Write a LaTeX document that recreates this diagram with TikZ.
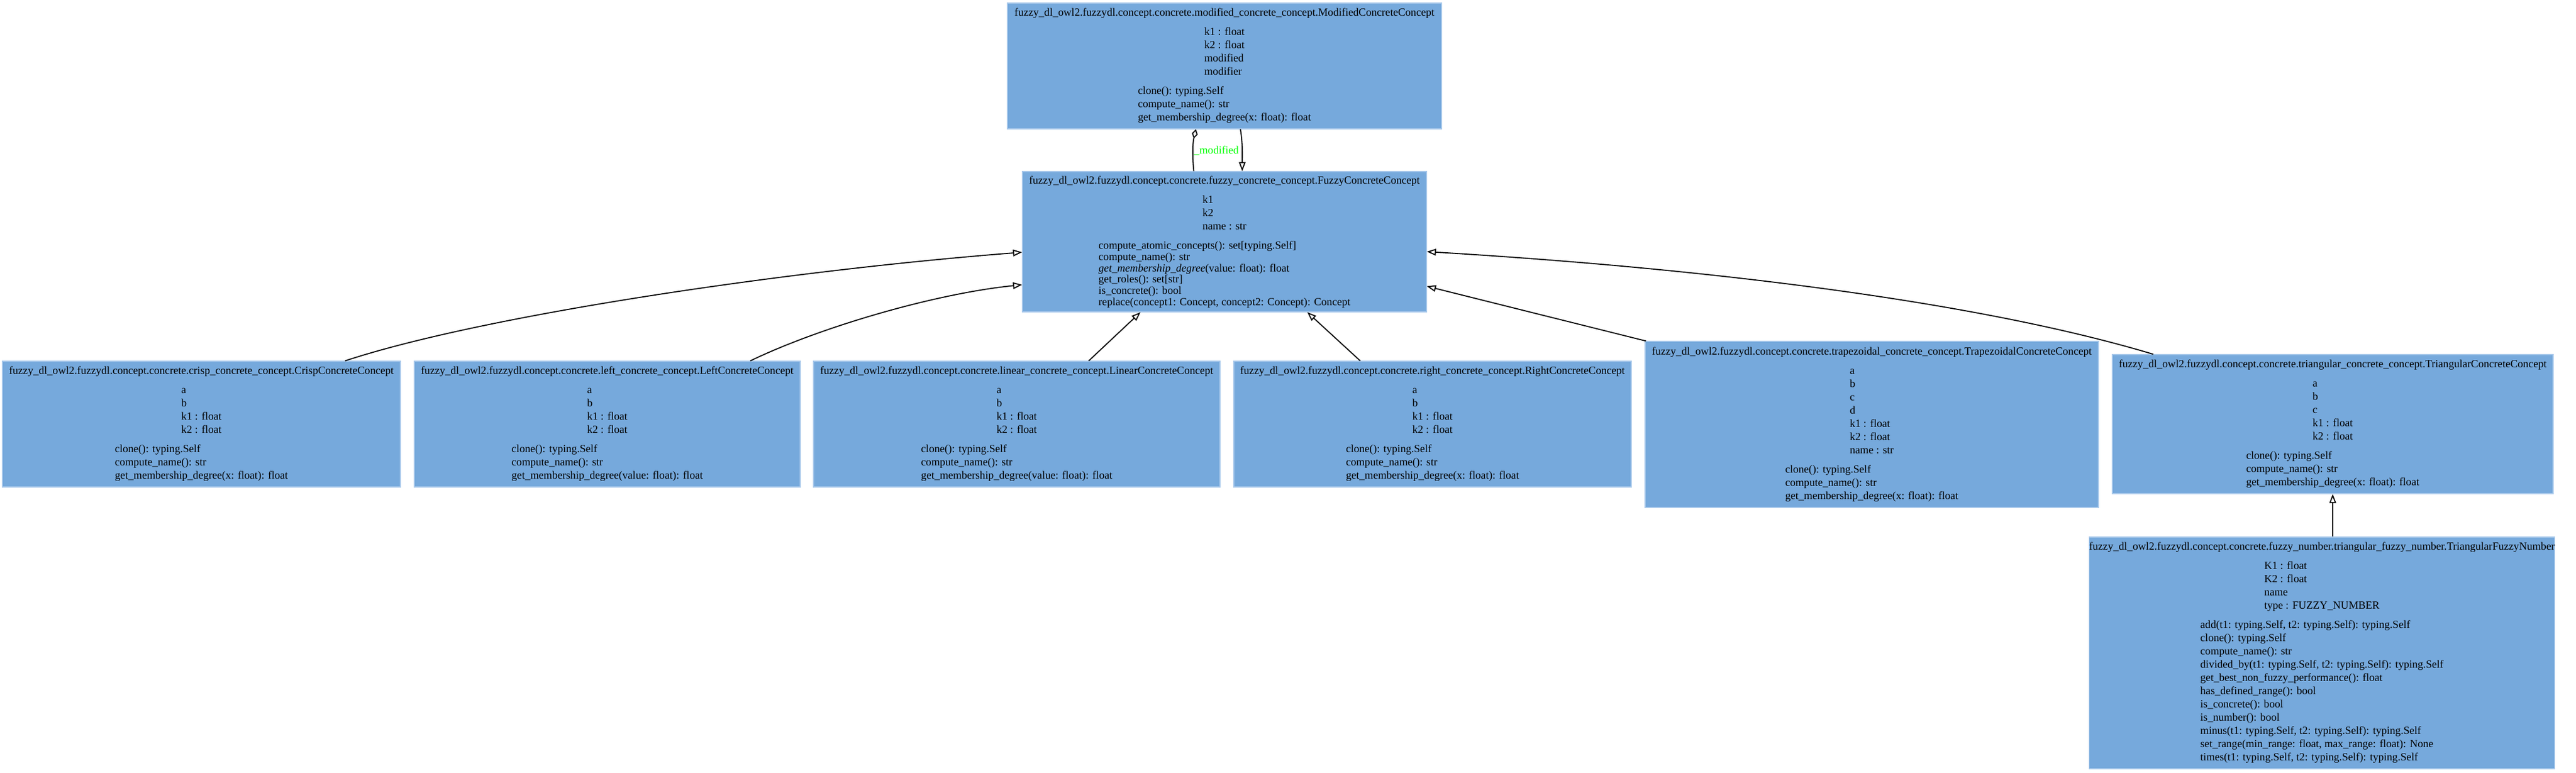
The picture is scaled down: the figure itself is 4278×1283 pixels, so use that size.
\documentclass[tikz,border=0pt]{standalone}
\usepackage{fontspec}
\setmainfont{Liberation Serif}
\usetikzlibrary{arrows.meta,calc}
\definecolor{clsfill}{HTML}{76A9DC}
\definecolor{clsline}{HTML}{A9C9EB}
\definecolor{lblgreen}{HTML}{00FF00}

% class body: [method stretch]{title}{attributes}{methods}
\newcommand{\classbody}[4][1]{%
  \begin{tabular}{@{}c@{}}#2\\[10pt]
    \begin{tabular}[t]{@{}l@{}}#3\\[10pt]\end{tabular}\\
    \renewcommand{\arraystretch}{#1}%
    \begin{tabular}[t]{@{}l@{}}#4\end{tabular}
  \end{tabular}}

\begin{document}
\begin{tikzpicture}[x=1pt,y=-1pt,
  cls/.style={draw=clsline,line width=1.2pt,fill=clsfill,inner sep=0pt,
    font=\fontsize{18.1}{22}\selectfont},
  isa/.style={-{Triangle[open,length=15pt,width=11pt]},line width=1.8pt},
  has/.style={{Diamond[open,length=16pt,width=10pt]}-,line width=1.8pt}]
  \useasboundingbox (0,0) rectangle (4278,1283);

  % ===== Classes =====
  \node[cls,minimum width=721pt,minimum height=209pt] (modified) at (2033.5,109.5)
    {\classbody{fuzzy\_dl\_owl2.fuzzydl.concept.concrete.modified\_concrete\_concept.ModifiedConcreteConcept}
      {k1 : float\\k2 : float\\modified\\modifier}
      {clone(): typing.Self\\compute\_name(): str\\get\_membership\_degree(x: float): float}};

  \node[cls,minimum width=671pt,minimum height=233pt] (fuzzy) at (2033.5,401.5)
    {\classbody[0.85]{fuzzy\_dl\_owl2.fuzzydl.concept.concrete.fuzzy\_concrete\_concept.FuzzyConcreteConcept}
      {k1\\k2\\name : str}
      {compute\_atomic\_concepts(): set[typing.Self]\\compute\_name(): str\\
       \textit{get\_membership\_degree}(value: float): float\\get\_roles(): set[str]\\
       is\_concrete(): bool\\replace(concept1: Concept, concept2: Concept): Concept}};

  \node[cls,minimum width=661pt,minimum height=209pt] (crisp) at (334.5,704.5)
    {\classbody{fuzzy\_dl\_owl2.fuzzydl.concept.concrete.crisp\_concrete\_concept.CrispConcreteConcept}
      {a\\b\\k1 : float\\k2 : float}
      {clone(): typing.Self\\compute\_name(): str\\get\_membership\_degree(x: float): float}};

  \node[cls,minimum width=641pt,minimum height=209pt] (left) at (1008.5,704.5)
    {\classbody{fuzzy\_dl\_owl2.fuzzydl.concept.concrete.left\_concrete\_concept.LeftConcreteConcept}
      {a\\b\\k1 : float\\k2 : float}
      {clone(): typing.Self\\compute\_name(): str\\get\_membership\_degree(value: float): float}};

  \node[cls,minimum width=675pt,minimum height=209pt] (linear) at (1688.5,704.5)
    {\classbody{fuzzy\_dl\_owl2.fuzzydl.concept.concrete.linear\_concrete\_concept.LinearConcreteConcept}
      {a\\b\\k1 : float\\k2 : float}
      {clone(): typing.Self\\compute\_name(): str\\get\_membership\_degree(value: float): float}};

  \node[cls,minimum width=660pt,minimum height=209pt] (right) at (2379,704.5)
    {\classbody{fuzzy\_dl\_owl2.fuzzydl.concept.concrete.right\_concrete\_concept.RightConcreteConcept}
      {a\\b\\k1 : float\\k2 : float}
      {clone(): typing.Self\\compute\_name(): str\\get\_membership\_degree(x: float): float}};

  \node[cls,minimum width=753pt,minimum height=276pt] (trapezoidal) at (3108.5,705)
    {\classbody{fuzzy\_dl\_owl2.fuzzydl.concept.concrete.trapezoidal\_concrete\_concept.TrapezoidalConcreteConcept}
      {a\\b\\c\\d\\k1 : float\\k2 : float\\name : str}
      {clone(): typing.Self\\compute\_name(): str\\get\_membership\_degree(x: float): float}};

  \node[cls,minimum width=732pt,minimum height=231pt] (triangular) at (3874,704.5)
    {\classbody{fuzzy\_dl\_owl2.fuzzydl.concept.concrete.triangular\_concrete\_concept.TriangularConcreteConcept}
      {a\\b\\c\\k1 : float\\k2 : float}
      {clone(): typing.Self\\compute\_name(): str\\get\_membership\_degree(x: float): float}};

  \node[cls,minimum width=764pt,minimum height=385pt] (trinumber) at (3856,1084.5)
    {\classbody{fuzzy\_dl\_owl2.fuzzydl.concept.concrete.fuzzy\_number.triangular\_fuzzy\_number.TriangularFuzzyNumber}
      {K1 : float\\K2 : float\\name\\type : FUZZY\_NUMBER}
      {add(t1: typing.Self, t2: typing.Self): typing.Self\\clone(): typing.Self\\
       compute\_name(): str\\divided\_by(t1: typing.Self, t2: typing.Self): typing.Self\\
       get\_best\_non\_fuzzy\_performance(): float\\has\_defined\_range(): bool\\
       is\_concrete(): bool\\is\_number(): bool\\
       minus(t1: typing.Self, t2: typing.Self): typing.Self\\
       set\_range(min\_range: float, max\_range: float): None\\
       times(t1: typing.Self, t2: typing.Self): typing.Self}};

  % ===== Association =====
  \draw[has] ($(modified.south)+(-47.5,0)$) .. controls +(-6,26) and +(-2,-20) .. ($(fuzzy.north)+(-51,0)$);
  \node[font=\fontsize{18.1}{22}\selectfont,text=lblgreen] (modlbl) at (2020,250) {\_modified};

  % ===== Inheritance =====
  \draw[isa] ($(modified.south)+(26.5,0)$) .. controls +(4,25) and +(0,-25) .. ($(fuzzy.north)+(29.5,0)$);
  \draw[isa] ($(crisp.north)+(238.5,0)$) .. controls +(227,-75) and +(-397,31) .. ($(fuzzy.west)+(0,17.5)$);
  \draw[isa] ($(left.north)+(237.5,0)$) .. controls +(114,-55) and +(-147,15) .. ($(fuzzy.west)+(0,71.5)$);
  \draw[isa] ($(linear.north)+(119.5,0)$) -- ($(fuzzy.south)+(-139.5,0)$);
  \draw[isa] ($(right.north)+(-120,0)$) -- ($(fuzzy.south)+(137.5,0)$);
  \draw[isa] ($(trapezoidal.north west)+(2,0)$) -- ($(fuzzy.east)+(0,74)$);
  \draw[isa] ($(triangular.north)+(-298,0)$) .. controls +(-300,-90) and +(450,27) .. ($(fuzzy.east)+(0,16.5)$);
  \draw[isa] ($(trinumber.north)+(18,0)$) -- (triangular.south);
\end{tikzpicture}
\end{document}
